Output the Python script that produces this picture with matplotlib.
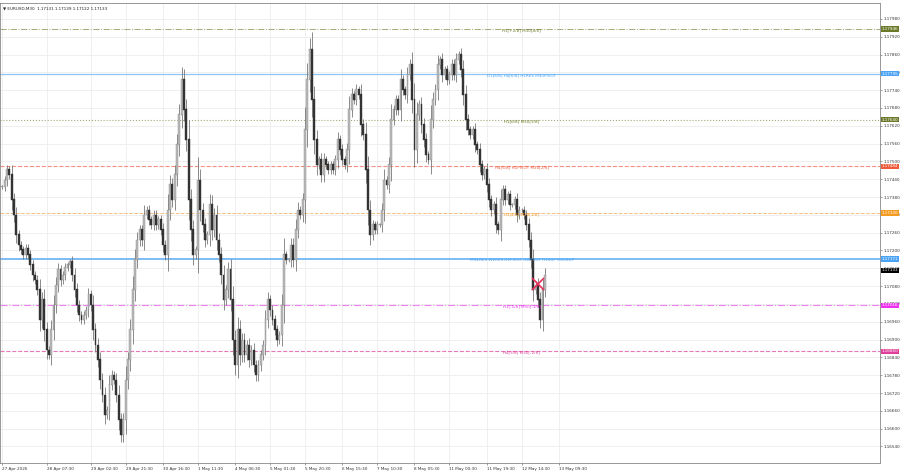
import matplotlib
matplotlib.use("Agg")
import matplotlib.pyplot as plt
import numpy as np

# M30 closes
CLOSES = [
    1.17414, 1.17437, 1.17471, 1.17454, 1.17370, 1.17319, 1.17252, 1.17218, 1.17202, 1.17185,
    1.17208, 1.17185, 1.17151, 1.17117, 1.17100, 1.17067, 1.16966, 1.17033, 1.16932, 1.16864,
    1.16848, 1.16932, 1.17016, 1.17083, 1.17134, 1.17100, 1.17117, 1.17141, 1.17151, 1.17161,
    1.17117, 1.17067, 1.17016, 1.16982, 1.16966, 1.16982, 1.16999, 1.17050, 1.17016, 1.16932,
    1.16881, 1.16831, 1.16763, 1.16713, 1.16645, 1.16662, 1.16747, 1.16780, 1.16763, 1.16713,
    1.16629, 1.16578, 1.16629, 1.16763, 1.16831, 1.16932, 1.17067, 1.17168, 1.17235, 1.17269,
    1.17235,
    1.17319, 1.17336, 1.17303, 1.17286, 1.17319, 1.17286, 1.17303, 1.17269, 1.17218, 1.17185,
    1.17336, 1.17421, 1.17370, 1.17454, 1.17555, 1.17656, 1.17774, 1.17673, 1.17572, 1.17370,
    1.17269, 1.17185, 1.17202, 1.17437, 1.17336, 1.17286, 1.17235, 1.17252, 1.17353, 1.17269,
    1.17319, 1.17235, 1.17185, 1.17117, 1.17033, 1.17067, 1.17134, 1.17033, 1.16898, 1.16814,
    1.16932, 1.16848, 1.16898, 1.16848, 1.16881, 1.16831, 1.16864, 1.16814, 1.16780, 1.16814,
    1.16848, 1.16881, 1.16966, 1.17033, 1.16999, 1.16966, 1.16932, 1.16898, 1.16915, 1.17016,
    1.17185, 1.17168, 1.17168,
    1.17218, 1.17168, 1.17269, 1.17336, 1.17319, 1.17370, 1.17606, 1.17774, 1.17876, 1.17707,
    1.17572, 1.17488, 1.17505, 1.17454, 1.17505, 1.17488, 1.17471, 1.17488, 1.17471, 1.17505,
    1.17572, 1.17539, 1.17505, 1.17488, 1.17539, 1.17673, 1.17724, 1.17707, 1.17741, 1.17724,
    1.17623, 1.17589, 1.17471, 1.17336, 1.17252, 1.17286, 1.17269, 1.17286, 1.17286, 1.17336,
    1.17437, 1.17421, 1.17488, 1.17640, 1.17673, 1.17707, 1.17673, 1.17774, 1.17741, 1.17724,
    1.17791, 1.17825, 1.17707, 1.17539, 1.17656, 1.17690, 1.17623, 1.17572, 1.17522, 1.17505,
    1.17640, 1.17707,
    1.17741, 1.17825, 1.17842, 1.17791, 1.17808, 1.17774, 1.17791, 1.17825, 1.17791, 1.17842,
    1.17859, 1.17808, 1.17724, 1.17640, 1.17606, 1.17589, 1.17606, 1.17555, 1.17539, 1.17488,
    1.17454, 1.17471, 1.17421, 1.17370, 1.17336, 1.17353, 1.17286, 1.17269, 1.17370, 1.17404,
    1.17370, 1.17387, 1.17353, 1.17353, 1.17370, 1.17319, 1.17336, 1.17336, 1.17319, 1.17286,
    1.17235, 1.17168, 1.17067, 1.17083, 1.17033, 1.16966, 1.17067, 1.17117,
]

LEVEL_PRICES = [1.17946, 1.17795, 1.17640, 1.17484, 1.17326, 1.17171, 1.17016, 1.16860]
LEVEL_LABELS = [
    "H1[+2/8] M30[8/8]",
    "D1[6/8] H4[6/8] H1RES M30PIVOT",
    "H1[6/8] M30[3/8]",
    "H4[5/8] H1PIVOT M30[2/8]",
    "H1[4/8] M30[1/8]",
    "MN1RES W1RES D1PIVOT H4PIVOT H1SUP M30SUP",
    "H1[-1/8] M30[-1/8]",
    "H4[3/8] M30[-2/8]",
]
LEVEL_COLORS = ["#6b7a2a", "#4aa3f5", "#6b7a2a", "#f05a3a", "#f59a20", "#4aa3f5", "#ee33ee", "#e0409a"]
LEVEL_LINE_COLORS = ["#a8a878", "#8cc4f5", "#a8a878", "#f59080", "#f8c080", "#7cbcf5", "#f080f0", "#e878b8"]
LEVEL_STYLES = ["-.", "-", ":", "--", "--", "-", "-.", "--"]
LEVEL_WIDTHS = [0.7, 0.9, 0.8, 0.8, 0.7, 1.4, 0.8, 0.8]

PRICE_TICKS = [round(1.16540 + 0.0006 * i, 5) for i in range(25)]
DATE_LABELS = ["27 Apr 2026", "28 Apr 07:30", "29 Apr 02:30", "29 Apr 21:30", "30 Apr 16:30",
               "1 May 11:30", "4 May 06:30", "5 May 01:30", "5 May 20:30", "6 May 15:30",
               "7 May 10:30", "8 May 05:30", "11 May 00:30", "11 May 19:30", "12 May 14:30",
               "13 May 09:30"]
DATE_POS = [0, 19, 38, 53, 69, 84, 100, 115, 130, 146, 161, 177, 192, 208, 223, 239]

CURRENT = 1.17133
X_MARK = 1.17087

closes = np.array(CLOSES)
opens = np.concatenate([[closes[0]], closes[:-1]])
n = len(closes)
N_SLOTS = 377
FS = 3.0

fig = plt.figure(figsize=(9, 4.74), dpi=100)
ax = fig.add_axes([0.0, 0.023, 0.978, 0.971])
ax.set_xlim(-1, N_SLOTS)
ax.set_ylim(1.16484, 1.18034)

for p in PRICE_TICKS:
    ax.axhline(p, color="#ececec", lw=0.6, zorder=0)
for x in DATE_POS:
    ax.axvline(x, color="#ececec", lw=0.6, zorder=0)

x = np.arange(n)
lo = np.minimum(opens, closes)
hi = np.maximum(opens, closes)
ext = np.abs(closes - opens) * 0.3 + 0.00008
ax.vlines(x, lo - ext, hi + ext, color="#777777", lw=0.6, zorder=2)
bull = closes >= opens
ax.bar(x[bull], (hi - lo)[bull] + 0.00002, bottom=lo[bull], width=0.8,
       color="#bbbbbb", edgecolor="#888888", lw=0.3, zorder=3)
ax.bar(x[~bull], (hi - lo)[~bull] + 0.00002, bottom=lo[~bull], width=0.8,
       color="#333333", edgecolor="#333333", lw=0.3, zorder=3)

for p, lab, c, lc, ls, lw in zip(LEVEL_PRICES, LEVEL_LABELS, LEVEL_COLORS, LEVEL_LINE_COLORS,
                                 LEVEL_STYLES, LEVEL_WIDTHS):
    ax.axhline(p, color=lc, ls=ls, lw=lw, zorder=1)
    ax.text(223, p - 0.00004, lab, color=c, fontsize=FS, ha="center", va="center", zorder=5)
    ax.text(1.002, p, f"{p:.5f}", transform=ax.get_yaxis_transform(), fontsize=FS,
            color="white", ha="left", va="center", zorder=6,
            bbox=dict(boxstyle="square,pad=0.15", fc=c, ec="none"), clip_on=False)

ax.text(1.002, CURRENT, f"{CURRENT:.5f}", transform=ax.get_yaxis_transform(), fontsize=FS,
        color="white", ha="left", va="center", zorder=6,
        bbox=dict(boxstyle="square,pad=0.15", fc="black", ec="none"), clip_on=False)
ax.plot([n - 4], [X_MARK], marker="x", color="#e8305a", ms=8, mew=1.2, zorder=6)

ax.yaxis.tick_right()
ax.set_yticks(PRICE_TICKS)
ax.set_yticklabels([f"{p:.5f}" for p in PRICE_TICKS], fontsize=FS, color="#333333")
ax.set_xticks(DATE_POS)
ax.set_xticklabels(DATE_LABELS, fontsize=FS, color="#333333", ha="left")
ax.tick_params(axis="both", length=1.5, width=0.5, pad=1, color="#777777")
for s in ax.spines.values():
    s.set_color("#888888")
    s.set_linewidth(0.6)

ax.text(0.003, 0.992, "\u25bc EURUSD,M30  1.17131 1.17139 1.17122 1.17133", transform=ax.transAxes,
        fontsize=FS, color="#222222", ha="left", va="top")

fig.savefig("out.png", dpi=100)
